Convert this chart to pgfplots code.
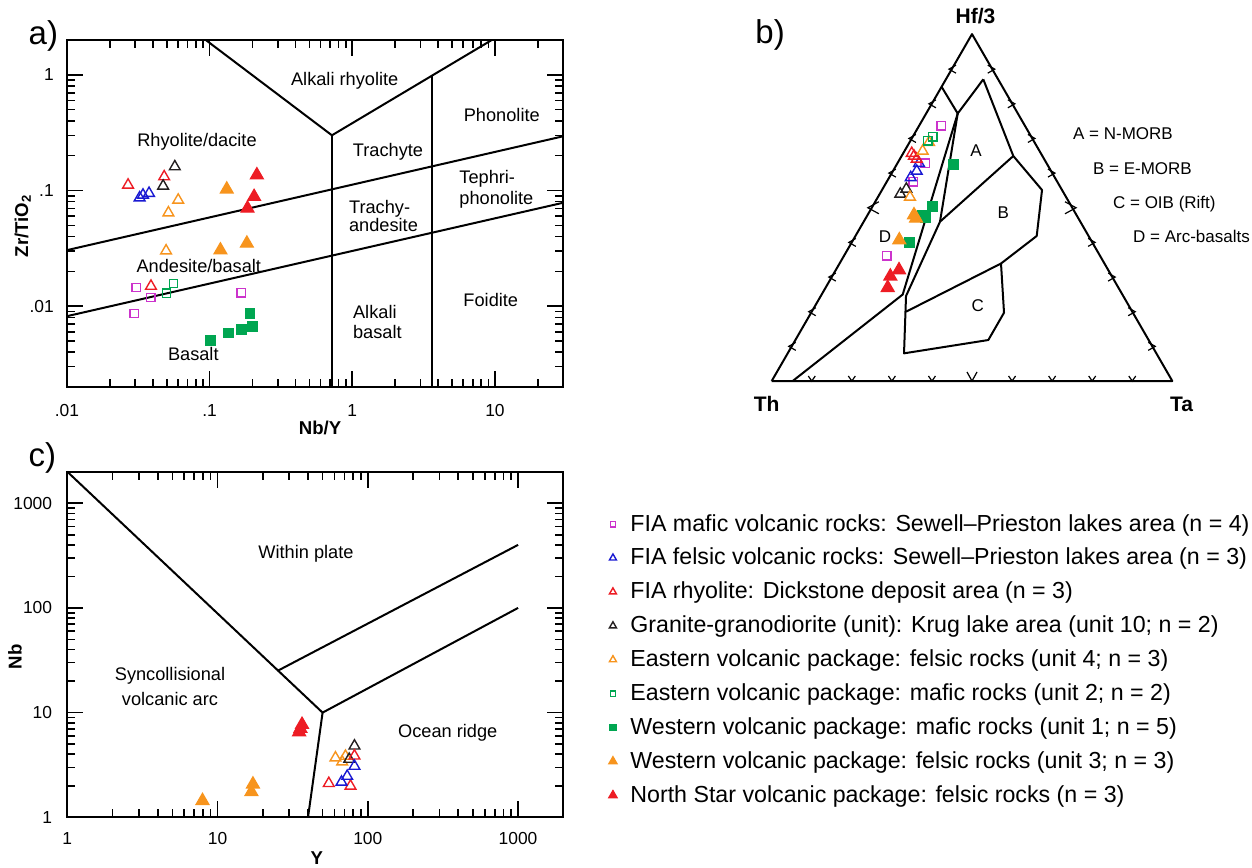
\documentclass[border=0pt]{standalone}
\usepackage{pgfplots}
\pgfplotsset{compat=1.18}
\usepackage{fontspec}
\setmainfont{Liberation Sans}

\definecolor{cMag}{RGB}{204,51,204}
\definecolor{cBlu}{RGB}{25,25,210}
\definecolor{cRed}{RGB}{237,28,36}
\definecolor{cBlk}{RGB}{35,31,32}
\definecolor{cOrg}{RGB}{247,148,29}
\definecolor{cGrn}{RGB}{0,166,81}

\newcommand\labf{\fontsize{9.1pt}{11pt}\selectfont}
\newcommand\legf{\fontsize{11.6pt}{13pt}\selectfont}
\newcommand\keyf{\fontsize{8.5pt}{10pt}\selectfont}
\newcommand\tickf{\fontsize{8.7pt}{10pt}\selectfont}
\newcommand\panf{\fontsize{16.5pt}{19pt}\selectfont}
\newcommand\axf{\bfseries\fontsize{9.3pt}{11pt}\selectfont}
\newcommand\vtxf{\bfseries\fontsize{10.5pt}{12pt}\selectfont}

\pgfplotsset{
  pMag/.style={only marks, line width=0.7pt, mark=square, mark size=2.1pt, color=cMag},
  pBlu/.style={only marks, line width=0.7pt, mark=triangle, mark size=3.1pt, color=cBlu},
  pRedO/.style={only marks, line width=0.7pt, mark=triangle, mark size=3.1pt, color=cRed},
  pBlk/.style={only marks, line width=0.7pt, mark=triangle, mark size=3.1pt, color=cBlk},
  pOrgO/.style={only marks, line width=0.7pt, mark=triangle, mark size=3.1pt, color=cOrg},
  pGrnO/.style={only marks, line width=0.7pt, mark=square, mark size=2.1pt, color=cGrn},
  pGrnF/.style={only marks, line width=0.6pt, mark=square*, mark size=2.4pt, color=cGrn},
  pOrgF/.style={only marks, line width=0.6pt, mark=triangle*, mark size=3.7pt, color=cOrg},
  pRedF/.style={only marks, line width=0.6pt, mark=triangle*, mark size=3.7pt, color=cRed},
  field/.style={black, line width=1pt, no marks, forget plot, line join=round},
}

\begin{document}
\begin{tikzpicture}
\path[use as bounding box] (0pt,0pt) rectangle (626pt,-433.5pt);

% ---------------- panel a ----------------
\begin{axis}[scale only axis, xmode=log, ymode=log, clip=false,
  axis line style={line width=1pt},
  major tick length=8pt, minor tick length=4pt,
  every tick/.append style={black, line width=0.8pt},
  tick label style={font=\tickf},
  at={(33.5pt,-20pt)}, anchor=north west,
  width=248pt, height=173.5pt,
  xmin=0.01, xmax=30, ymin=0.002, ymax=2,
  xtick={0.01,0.1,1,10}, xticklabels={.01,.1,1,10},
  minor xtick={0.02,0.03,0.04,0.05,0.06,0.07,0.08,0.09,0.2,0.3,0.4,0.5,0.6,0.7,0.8,0.9,2,3,4,5,6,7,8,9,20},
  ytick={0.01,0.1,1}, yticklabels={.01,.1,1},
  minor ytick={0.003,0.004,0.005,0.006,0.007,0.008,0.009,0.02,0.03,0.04,0.05,0.06,0.07,0.08,0.09,0.2,0.3,0.4,0.5,0.6,0.7,0.8,0.9},
  xticklabel style={yshift=-5pt}, yticklabel style={xshift=-3.1pt},
  legend cell align=left,
  legend image post style={every mark/.append style={scale=0.65}},
  legend style={at={(axis description cs:1.0915,-0.3622)}, anchor=north west,
    draw=none, fill=none, inner sep=0pt, row sep=5.95pt,
    /tikz/every odd column/.append style={column sep=6.65pt},
    font=\legf, nodes={inner sep=0pt, text height=9pt, text depth=2pt}},
]
\addplot[pMag] coordinates {(0.0306,0.0145) (0.0388,0.0119) (0.0295,0.00865) (0.166,0.0130)};
\addlegendentry{FIA mafic volcanic rocks: Sewell–Prieston lakes area (n = 4)}
\addplot[pBlu] coordinates {(0.0323,0.0866) (0.0341,0.0914) (0.0376,0.0946)};
\addlegendentry{FIA felsic volcanic rocks: Sewell–Prieston lakes area (n = 3)}
\addplot[pRedO] coordinates {(0.0268,0.1116) (0.048,0.1316) (0.0388,0.0149)};
\addlegendentry{FIA rhyolite: Dickstone deposit area (n = 3)}
\addplot[pBlk] coordinates {(0.057,0.1607) (0.0472,0.1094)};
\addlegendentry{Granite-granodiorite (unit): Krug lake area (unit 10; n = 2)}
\addplot[pOrgO] coordinates {(0.0602,0.0827) (0.0514,0.0642) (0.0495,0.0301)};
\addlegendentry{Eastern volcanic package: felsic rocks (unit 4; n = 3)}
\addplot[pGrnO] coordinates {(0.0558,0.0157) (0.0498,0.0129)};
\addlegendentry{Eastern volcanic package: mafic rocks (unit 2; n = 2)}
\addplot[pGrnF] coordinates {(0.101,0.00508) (0.1355,0.00587) (0.168,0.00628) (0.2,0.00662) (0.192,0.00865)};
\addlegendentry{Western volcanic package: mafic rocks (unit 1; n = 5)}
\addplot[pOrgF] coordinates {(0.1318,0.1024) (0.119,0.0305) (0.1824,0.0349)};
\addlegendentry{Western volcanic package: felsic rocks (unit 3; n = 3)}
\addplot[pRedF] coordinates {(0.2143,0.136) (0.205,0.0884) (0.1843,0.0701)};
\addlegendentry{North Star volcanic package: felsic rocks (n = 3)}
% field boundaries
\addplot[field] coordinates {(0.01,0.0305) (30,0.294)};
\addplot[field] coordinates {(0.01,0.00819) (30,0.0783)};
\addplot[field] coordinates {(0.094,2) (0.72,0.30) (9.5,2)};
\addplot[field] coordinates {(0.72,0.30) (0.72,0.002)};
\addplot[field] coordinates {(3.6,0.98) (3.6,0.002)};
\end{axis}

% ---------------- panel b (ternary Th - Hf/3 - Ta) ----------------
\begin{axis}[at={(385.85pt,-190.5pt)}, anchor=south west, scale only axis,
  width=200.3pt, height=173.46pt, xmin=0, xmax=100, ymin=0, ymax=86.6025,
  hide axis, clip=false]
\addplot[field] coordinates {(0,0) (100,0) (50,86.6025) (0,0)};
\addplot[field] coordinates {(5.24,0) (32.70,21.59) (46.43,66.78)};
\addplot[field] coordinates {(42.39,73.47) (46.43,66.78) (52.82,75.31)};
\addplot[field] coordinates {(52.82,75.31) (60.31,56.17) (67.48,47.68) (66.15,36.20) (57.24,29.33) (57.99,17.05) (54.07,10.23) (33.03,6.91) (33.53,21.22) (42.01,39.77) (46.43,66.78)};
\addplot[field] coordinates {(60.31,56.17) (42.01,39.77)};
\addplot[field] coordinates {(33.53,17.30) (57.24,29.33)};
\addplot[pMag] coordinates {(42.26,63.66) (38.34,54.34) (35.35,49.75) (28.71,31.28)};
\addplot[pBlu] coordinates {(36.77,54.34) (36.20,52.42) (34.70,50.80)};
\addplot[pRedO] coordinates {(34.95,56.84) (36.20,55.42) (35.52,56.17)};
\addplot[pBlk] coordinates {(33.60,47.93) (32.10,46.68)};
\addplot[pOrgO] coordinates {(39.27,59.59) (37.69,57.41) (34.52,45.93)};
\addplot[pGrnO] coordinates {(40.19,60.98) (38.94,59.99)};
\addplot[pGrnF] coordinates {(45.33,54.10) (40.19,43.51) (37.69,41.44) (38.44,40.86) (34.35,34.52)};
\addplot[pOrgF] coordinates {(35.52,41.44) (36.02,40.61) (31.85,35.20)};
\addplot[pRedF] coordinates {(31.78,27.71) (29.61,26.14) (28.96,23.29)};
\end{axis}

% ---------------- panel c ----------------
\begin{axis}[scale only axis, xmode=log, ymode=log, clip=false,
  axis line style={line width=1pt},
  major tick length=8pt, minor tick length=4pt,
  every tick/.append style={black, line width=0.8pt},
  tick label style={font=\tickf},
  at={(33.65pt,-235.85pt)}, anchor=north west,
  width=248pt, height=172.8pt,
  xmin=1, xmax=2000, ymin=1, ymax=2000,
  xtick={1,10,100,1000}, xticklabels={1,10,100,1000},
  minor xtick={2,3,4,5,6,7,8,9,20,30,40,50,60,70,80,90,200,300,400,500,600,700,800,900},
  ytick={1,10,100,1000}, yticklabels={1,10,100,1000},
  minor ytick={2,3,4,5,6,7,8,9,20,30,40,50,60,70,80,90,200,300,400,500,600,700,800,900},
  xticklabel style={yshift=-3.9pt}, yticklabel style={xshift=-4.1pt},
]
\addplot[field] coordinates {(1,2000) (50,10) (40,1)};
\addplot[field] coordinates {(25,25) (1000,400)};
\addplot[field] coordinates {(50,10) (1000,100)};
\addplot[pRedF] coordinates {(36.5,7.69) (35.6,7.04) (34.9,6.53)};
\addplot[pOrgF] coordinates {(7.94,1.44) (17.2,2.07) (16.8,1.75)};
\addplot[pOrgO] coordinates {(60.9,3.70) (71.0,3.84) (67.5,3.39)};
\addplot[pBlk] coordinates {(81.5,4.81) (75.2,3.59)};
\addplot[pRedO] coordinates {(81.5,3.86) (55.0,2.11) (76.7,1.99)};
\addplot[pBlu] coordinates {(81.5,3.08) (72.9,2.47) (66.8,2.17)};
\end{axis}

% ---------------- texts and ternary ticks (pixel units) ----------------
\begin{scope}[x=0.5pt, y=-0.5pt, every node/.style={inner sep=0pt}]
\node[anchor=base west, font=\panf] at (28.3,44.5) {a)};
\node[anchor=base west, font=\panf] at (755,43) {b)};
\node[anchor=base west, font=\panf] at (28.3,466.4) {c)};
\node[anchor=base, font=\axf] at (320,434.5) {Nb/Y};
\node[anchor=base, font=\axf, rotate=90] at (28,226) {Zr/TiO\textsubscript{2}};
\node[anchor=base, font=\axf] at (316.7,864) {Y};
\node[anchor=base, font=\axf, rotate=90] at (21.7,656.7) {Nb};
% panel a fields
\node[anchor=base, font=\labf] at (344.7,85) {Alkali rhyolite};
\node[anchor=base, font=\labf] at (501.8,121) {Phonolite};
\node[anchor=base, font=\labf] at (197,146.7) {Rhyolite/dacite};
\node[anchor=base, font=\labf] at (388,156.7) {Trachyte};
\node[anchor=base west, font=\labf] at (459,183.3) {Tephri-};
\node[anchor=base west, font=\labf] at (459,204) {phonolite};
\node[anchor=base west, font=\labf] at (348.7,213.3) {Trachy-};
\node[anchor=base west, font=\labf] at (348.7,231.7) {andesite};
\node[anchor=base, font=\labf] at (198.8,272.3) {Andesite/basalt};
\node[anchor=base, font=\labf] at (490.8,306) {Foidite};
\node[anchor=base west, font=\labf] at (352.7,318.3) {Alkali};
\node[anchor=base west, font=\labf] at (352.7,338.3) {basalt};
\node[anchor=base, font=\labf] at (193.3,360.7) {Basalt};
% panel c fields
\node[anchor=base, font=\labf] at (306,558.3) {Within plate};
\node[anchor=base, font=\labf] at (170,680.7) {Syncollisional};
\node[anchor=base, font=\labf] at (170,705) {volcanic arc};
\node[anchor=base, font=\labf] at (447.8,737.3) {Ocean ridge};
% ternary labels
\node[anchor=base, font=\vtxf] at (975.5,23.3) {Hf/3};
\node[anchor=base, font=\vtxf] at (766.7,411.7) {Th};
\node[anchor=base, font=\vtxf] at (1181.5,411.7) {Ta};
\node[anchor=base, font=\keyf] at (976,156.8) {A};
\node[anchor=base, font=\keyf] at (1003.3,218.8) {B};
\node[anchor=base, font=\keyf] at (977.7,311.8) {C};
\node[anchor=base, font=\keyf] at (885,242.1) {D};
\node[anchor=base west, font=\keyf] at (1072.7,139.3) {A = N-MORB};
\node[anchor=base west, font=\keyf] at (1092.7,174) {B = E-MORB};
\node[anchor=base west, font=\keyf] at (1112.7,208.3) {C = OIB (Rift)};
\node[anchor=base west, font=\keyf] at (1132.7,242.7) {D = Arc-basalts};
% ternary tick chevrons
\begin{scope}[line width=0.6pt]
\foreach \k in {1,2,3,4,6,7,8,9} {
  \draw ({771.7+20.03*\k},{381-34.65*\k}) ++(4,-4) -- ++(-7,4) -- ++(7,4);
  \draw ({1172.3-20.06*\k},{381-34.65*\k}) ++(-4,-4) -- ++(7,4) -- ++(-7,4);
  \draw ({771.7+40.06*\k},381) ++(-3.5,-5) -- ++(3.5,5) -- ++(3.5,-5);
}
\draw (871.85,207.75) ++(7,-6) -- ++(-11,6) -- ++(11,6);
\draw (1072,207.75) ++(-7,-6) -- ++(11,6) -- ++(-11,6);
\draw (972,381) ++(-5,-9) -- ++(5,9) -- ++(5,-9);
\end{scope}
\end{scope}
\end{tikzpicture}
\end{document}
